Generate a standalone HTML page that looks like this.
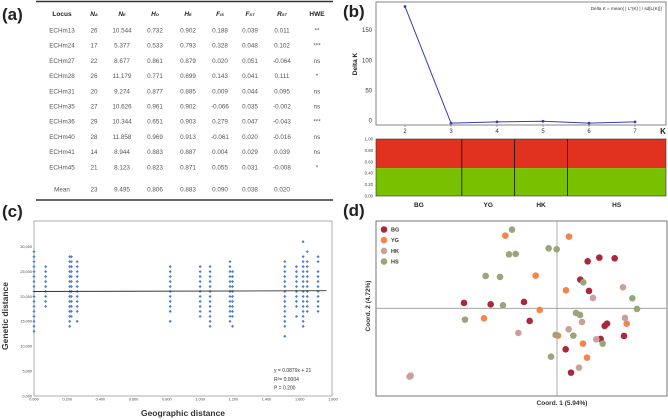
<!DOCTYPE html>
<html><head><meta charset="utf-8"><style>
html,body{margin:0;padding:0;background:#fff}
svg{display:block;font-family:"Liberation Sans",Arial,sans-serif}
</style></head><body>
<svg id="fig" width="668" height="420" viewBox="0 0 668 420" xmlns="http://www.w3.org/2000/svg">
<g id="tableA"></g>
<g id="panelB"></g>
<g id="panelC"></g>
<g id="panelD"></g>
</svg>
<script>
const tableHeaders=["Locus","NA","NE","HO","HE","FIS","FST","RST","HWE"];
const tableRows=[
["ECHm13","26","10.544","0.732","0.902","0.188","0.039","0.011","**"],
["ECHm24","17","5.377","0.533","0.793","0.328","0.048","0.102","***"],
["ECHm27","22","8.677","0.861","0.879","0.020","0.051","-0.064","ns"],
["ECHm28","26","11.179","0.771","0.899","0.143","0.041","0.111","*"],
["ECHm31","20","9.274","0.877","0.885","0.009","0.044","0.095","ns"],
["ECHm35","27","10.626","0.961","0.902","-0.066","0.035","-0.002","ns"],
["ECHm36","29","10.344","0.651","0.903","0.279","0.047","-0.043","***"],
["ECHm40","28","11.858","0.969","0.913","-0.061","0.020","-0.016","ns"],
["ECHm41","14","8.944","0.883","0.887","0.004","0.029","0.039","ns"],
["ECHm45","21","8.123","0.823","0.871","0.055","0.031","-0.008","*"]];
const tableMean=["Mean","23","9.495","0.806","0.883","0.090","0.038","0.020",""];
const kValues=[2,3,4,5,6,7];
const deltaK=[189,-4,-2,-1,-4,-2];
const kTicks=[0,50,100,150];
const popNames=["BG","YG","HK","HS"];
const popBounds=[0,0.296,0.478,0.66,1];
const clusterGreen=[0.49,0.49,0.49,0.49];
const structTicks=["1.00","0.80","0.60","0.40","0.20","0.00"];
const geoX=[0,0.07,0.215,0.225,0.26,0.82,1.0,1.06,1.18,1.195,1.51,1.58,1.62,1.645,1.71];
const genY=[
[13,14,15,16,17,18,19,20,21,22,23,24,25,26,27,28,29],
[18,19,20,21,22,23,24,25,26],
[14,15,16,17,18,19,20,21,22,23,24,25,26,27,28],
[16,17,18,19,20,21,22,23,24,25,26,27,28],
[15,17,18,19,20,21,22,23,24,25,26,27],
[15,17,18,19,20,21,22,23,24,25,26],
[16,17,18,19,20,21,22,23,24,25,26],
[14,15,16,17,18,19,20,21,22,23,24,25,26],
[15,16,17,18,19,20,21,22,23,24,25,26,27],
[14,16,17,18,19,20,21,22,23,24,25],
[12,14,15,16,17,18,19,20,21,22,23,24,25,26,27],
[16,18,19,20,21,22,23,24,25,26],
[14,15,16,17,18,19,20,21,22,23,24,25,26,27,28,31],
[17,18,19,20,21,22,23,24,25,26,27,29],
[17,18,19,20,21,22,23,24,25,27,28]];
const cXTicks=[0,0.2,0.4,0.6,0.8,1.0,1.2,1.4,1.6,1.8];
const cYTicks=[0,5,10,15,20,25,30];
const regSlope=0.0879, regIntercept=21;
const pcoaGroups=["BG","YG","HK","HS"];
const pcoaColors=["#a8283c","#f5844c","#c9a09b","#9aa57a"];
const bgX=[0.92,1.27,1.73,0.70,0.96,-2.79,-1.99,-0.99,-0.82,1.43,1.50,1.31,2.01,0.26,0.42];
const bgY=[1.41,1.52,1.50,0.86,0.52,0.16,0.12,0.19,-0.38,-0.53,-0.46,-0.92,-0.83,-1.23,-1.93];
const ygX=[-1.55,0.36,-0.64,0.27,-0.52,-2.19,0.03,0.78,0.90,2.09];
const ygY=[2.18,2.15,0.98,0.54,-0.05,-0.30,-0.82,-1.06,-1.48,-0.46];
const hkX=[1.98,1.08,0.75,0.35,-1.16,1.18,2.04,0.66,-4.42,-4.39];
const hkY=[0.63,0.31,-0.41,-0.63,-0.74,-0.93,-0.29,-1.78,-2.05,-2.02];
const hsX=[-1.35,-1.44,-1.24,-0.25,-0.01,-2.14,-1.71,0.79,2.26,2.40,-1.62,-2.76,0.57,0.69,-0.04,0.49,1.37,-0.18];
const hsY=[2.36,1.62,1.63,1.80,1.77,0.97,0.94,0.78,0.30,-0.02,0.09,-0.34,-0.14,-0.20,-0.80,-0.82,-1.06,-1.45];

const NS="http://www.w3.org/2000/svg";
function mk(parent,tag,attrs,text){const e=document.createElementNS(NS,tag);for(const k in attrs)e.setAttribute(k,attrs[k]);if(text!==undefined)e.textContent=text;parent.appendChild(e);return e;}

(function(){
const g=document.getElementById('tableA');
let t=mk(g,'text',{x:2,y:20,'font-size':17,'font-weight':'bold',fill:'#222'},'(a)');


let l=mk(g,'line',{x1:36,x2:333,y1:1.5,y2:1.5,stroke:'#333','stroke-width':1.5});


l=mk(g,'line',{x1:36,x2:333,y1:200,y2:200,stroke:'#333','stroke-width':1.5});


const colX=[62,94,122,155,188,220,250,282,317];
const subs=["","A","E","O","E","IS","ST","ST",""];
tableHeaders.forEach((h,i)=>{
  const tx=mk(g,'text',{x:colX[i],y:16,'font-size':6.5,'font-weight':'bold','text-anchor':'middle',fill:'#222'});
  
  
  if(subs[i]){mk(tx,'tspan',{'font-style':'italic'},h[0]);mk(tx,'tspan',{'font-size':4,'font-style':'italic'},subs[i]);}
  else tx.textContent=h;
});
const allRows=tableRows.concat([tableMean]);
allRows.forEach((r,ri)=>{
  const y=ri<10?32.5+ri*15.2:191.5;
  r.forEach((v,ci)=>{
    const tx=mk(g,'text',{x:colX[ci],y:y,'font-size':6.3,'text-anchor':'middle',fill:'#555'},v);
    
    
  });
});
})();

(function(){
const g=document.getElementById('panelB');
let t=mk(g,'text',{x:343,y:17,'font-size':17,'font-weight':'bold',fill:'#222'},'(b)');


const L=376,R=666,T=2,B=125;
const xS=k=>405+(k-2)*46;
const yS=v=>120.7-v*30.2/50;
let r=mk(g,'rect',{x:L,y:T,width:R-L,height:B-T,fill:'none',stroke:'#666','stroke-width':0.8});


kTicks.forEach(v=>{
  const tx=mk(g,'text',{x:L-4,y:yS(v)+2,'font-size':6,'text-anchor':'end',fill:'#333'},v);
  
  
});
kValues.forEach(k=>{
  const tx=mk(g,'text',{x:xS(k),y:B+8,'font-size':6,'text-anchor':'middle',fill:'#333'},k);
  
  
  mk(g,'line',{x1:xS(k),x2:xS(k),y1:B,y2:B+2,stroke:'#666','stroke-width':0.6});
});
t=mk(g,'text',{x:663,y:134,'font-size':8,'font-weight':'bold','text-anchor':'middle',fill:'#222'},'K');


t=mk(g,'text',{x:0,y:0,'font-size':6.5,'font-weight':'bold','text-anchor':'middle',fill:'#222',transform:'translate(357,64) rotate(-90)'},'Delta K');


t=mk(g,'text',{x:662,y:10,'font-size':4.6,'text-anchor':'end',fill:'#333'},'Delta K = mean( | L\u2033(K) | / sd[L(K)])');


const pts=kValues.map((k,i)=>xS(k)+','+yS(deltaK[i])).join(' ');
let p=mk(g,'polyline',{points:pts,fill:'none',stroke:'#3a3fb0','stroke-width':1});


kValues.forEach((k,i)=>{
  const c=mk(g,'circle',{cx:xS(k),cy:yS(deltaK[i]),r:1.4,fill:'#3a3fb0'});
  
  
});
const sL=376,sR=666,sT=139,sB=196;
const sx=f=>sL+f*(sR-sL);
const sy=f=>sB-f*(sB-sT);
popNames.forEach((n,i)=>{
  const x0=sx(popBounds[i]),x1=sx(popBounds[i+1]);
  let a=mk(g,'rect',{x:x0,y:sT,width:x1-x0,height:sy(clusterGreen[i])-sT,fill:'#e0321e'});
  
  
  a=mk(g,'rect',{x:x0,y:sy(clusterGreen[i]),width:x1-x0,height:sB-sy(clusterGreen[i]),fill:'#79c000'});
  
  
  const tx=mk(g,'text',{x:(x0+x1)/2,y:207,'font-size':6.5,'font-weight':'bold','text-anchor':'middle',fill:'#222'},n);
  
  
  if(i>0){const d=mk(g,'line',{x1:x0,x2:x0,y1:sT,y2:sB,stroke:'#111','stroke-width':0.8});
    
    }
});
r=mk(g,'rect',{x:sL,y:sT,width:sR-sL,height:sB-sT,fill:'none',stroke:'#333','stroke-width':0.6});


structTicks.forEach((s,i)=>{
  const tx=mk(g,'text',{x:373,y:sT+i*(sB-sT)/5+1.5,'font-size':4.3,'text-anchor':'end',fill:'#444'},s);
  
  
});
})();

(function(){
const g=document.getElementById('panelC');
let t=mk(g,'text',{x:2,y:217,'font-size':17,'font-weight':'bold',fill:'#222'},'(c)');


const L=34,R=332,T=221,B=396;
const xS=v=>L+v*(333-L)/1.8;
const yS=v=>B-v*149.3/30;
let r=mk(g,'rect',{x:L,y:T,width:R-L,height:B-T,fill:'none',stroke:'#999','stroke-width':0.8});


cXTicks.forEach(v=>{
  const tx=mk(g,'text',{x:xS(v),y:400.5,'font-size':3.8,'text-anchor':'middle',fill:'#444'},v.toFixed(3));
  
  
});
cYTicks.forEach(v=>{
  const tx=mk(g,'text',{x:L-2,y:yS(v)+1.3,'font-size':3.8,'text-anchor':'end',fill:'#444'},v+',000');
  
  
});
t=mk(g,'text',{x:183,y:416,'font-size':8.5,'font-weight':'bold','text-anchor':'middle',fill:'#333'},'Geographic distance');


t=mk(g,'text',{x:0,y:0,'font-size':8.5,'font-weight':'bold','text-anchor':'middle',fill:'#333',transform:'translate(8,316) rotate(-90)'},'Genetic distance');


geoX.forEach((gx,i)=>{
  genY[i].forEach(v=>{
    const c=mk(g,'rect',{x:xS(gx)-1.1,y:yS(v)-1.1,width:2.2,height:2.2,fill:'#4a7fd4',transform:'rotate(45 '+xS(gx)+' '+yS(v)+')'});
    
    
  });
});
const x0=0,x1=1.76;
let ln=mk(g,'line',{x1:xS(x0),y1:yS(regIntercept+regSlope*x0),x2:xS(x1),y2:yS(regIntercept+regSlope*x1),stroke:'#333','stroke-width':0.9});


["y = 0.0879x + 21","R\u00b2= 0.0004","P = 0.200"].forEach((s,i)=>{
  const tx=mk(g,'text',{x:274,y:372+i*8.8,'font-size':5,fill:'#333'},s);
  
  
});
})();

(function(){
const g=document.getElementById('panelD');
let t=mk(g,'text',{x:343,y:216,'font-size':17,'font-weight':'bold',fill:'#222'},'(d)');


const L=376,R=667,T=221,B=396;
const xS=v=>557+v*100/3;
const yS=v=>308.3-v*100/3;
let r=mk(g,'rect',{x:L,y:T,width:R-L,height:B-T,fill:'none',stroke:'#555','stroke-width':0.8});


let a=mk(g,'line',{x1:xS(0),x2:xS(0),y1:T,y2:B,stroke:'#999','stroke-width':0.8});


a=mk(g,'line',{x1:L,x2:R,y1:yS(0),y2:yS(0),stroke:'#999','stroke-width':0.8});


t=mk(g,'text',{x:562,y:405,'font-size':6.5,'font-weight':'bold','text-anchor':'middle',fill:'#333'},'Coord. 1 (5.94%)');


t=mk(g,'text',{x:0,y:0,'font-size':6.5,'font-weight':'bold','text-anchor':'middle',fill:'#333',transform:'translate(370,306) rotate(-90)'},'Coord. 2 (4.72%)');


const xsets=[bgX,ygX,hkX,hsX], ysets=[bgY,ygY,hkY,hsY];
xsets.forEach((xs,gi)=>{
  xs.forEach((v,i)=>{
    const c=mk(g,'circle',{cx:xS(v),cy:yS(ysets[gi][i]),r:3.3,fill:pcoaColors[gi]});
    
    
  });
});
pcoaGroups.forEach((n,i)=>{
  const y=229.5+i*10.7;
  const c=mk(g,'circle',{cx:384,cy:y,r:3.3,fill:pcoaColors[i]});
  
  
  const tx=mk(g,'text',{x:391,y:y+2,'font-size':5.5,'font-weight':'bold',fill:'#333'},n);
  
  
});
})();
</script>
</body></html>
